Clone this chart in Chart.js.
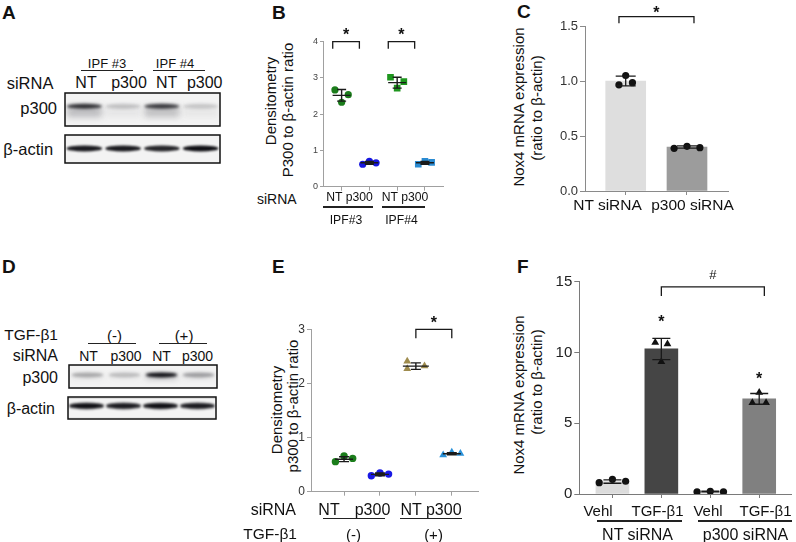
<!DOCTYPE html>
<html>
<head>
<meta charset="utf-8">
<script src="https://cdn.jsdelivr.net/npm/chart.js@4.4.0/dist/chart.umd.min.js"></script>
<style>
  body { margin: 0; background: #fff; }
  #fig { position: relative; width: 796px; height: 542px; overflow: hidden;
         font-family: "Liberation Sans", Arial, sans-serif; color: #111; }
  .t { position: absolute; white-space: nowrap; line-height: 1; }
  .ln { position: absolute; height: 1.3px; background: #222; }
  canvas { position: absolute; }
</style>
</head>
<body>
<div id="fig"></div>
<script>
// ---- data ----
// A: western blot band intensity (0..1)
const aLanes = ['NT', 'p300', 'NT', 'p300'];
const aP300 = [0.85, 0.2, 0.8, 0.18];
const aActin = [0.95, 0.95, 0.9, 1.0];

// B: densitometry, IPF#3 / IPF#4
const bLabels = ['NT', 'p300', 'NT', 'p300'];
const bPoints = [[2.67, 2.33, 2.54], [0.62, 0.70, 0.66], [3.02, 2.72, 2.90], [0.62, 0.70, 0.67]];
const bMean = [2.52, 0.66, 2.87, 0.66];
const bSd = [0.16, 0.04, 0.15, 0.04];
const bTicks = [0, 1, 2, 3, 4];

// C: Nox4 mRNA
const cLabels = ['NT siRNA', 'p300 siRNA'];
const cMean = [1.0, 0.40];
const cPoints = [[0.965, 1.05, 0.985], [0.388, 0.406, 0.394]];
const cSd = [0.045, 0.01];
const cTicks = [0, 0.5, 1.0, 1.5];

// D: western blot with TGF-b1
const dLanes = ['NT', 'p300', 'NT', 'p300'];
const dP300 = [0.3, 0.22, 1.0, 0.35];
const dActin = [1.0, 0.95, 1.0, 0.95];

// E: densitometry with TGF-b1
const eLabels = ['NT', 'p300', 'NT', 'p300'];
const ePoints = [[0.555, 0.66, 0.615], [0.295, 0.345, 0.325], [2.41, 2.27, 2.32], [0.68, 0.73, 0.705]];
const eMean = [0.60, 0.32, 2.32, 0.70];
const eSd = [0.045, 0.025, 0.06, 0.02];
const eTicks = [0, 1, 2, 3];

// F: Nox4 mRNA with TGF-b1
const fLabels = ['Vehl', 'TGF-β1', 'Vehl', 'TGF-β1'];
const fMean = [0.88, 10.25, 0.18, 6.72];
const fSd = [0.12, 0.75, 0.02, 0.38];
const fPoints = [[0.8, 1.04, 0.9], [10.7, 9.35, 10.6], [0.16, 0.19, 0.16], [6.45, 7.18, 6.45]];
const fTicks = [0, 5, 10, 15];

// ---- helpers ----
const FONT = '"Liberation Sans", Arial, sans-serif';
Chart.defaults.font.family = FONT;
const fig = document.getElementById('fig');

function text(str, x, y, size, align, extra) {
  const d = document.createElement('div');
  d.className = 't';
  d.textContent = str;
  d.style.fontSize = size + 'px';
  d.style.left = x + 'px';
  d.style.top = y + 'px';
  const tx = align === 'l' ? '0' : align === 'r' ? '-100%' : '-50%';
  d.style.transform = 'translate(' + tx + ',-50%)' + (extra && extra.rot ? ' rotate(-90deg)' : '');
  if (extra && extra.bold) d.style.fontWeight = 'bold';
  fig.appendChild(d);
}
function vtext(str, x, y, size) { text(str, x, y, size, 'c', { rot: true }); }
function hline(x1, x2, y) {
  const d = document.createElement('div');
  d.className = 'ln';
  d.style.left = x1 + 'px'; d.style.width = (x2 - x1) + 'px'; d.style.top = y + 'px';
  fig.appendChild(d);
}
function makeCanvas(left, top, w, h) {
  const c = document.createElement('canvas');
  c.width = w; c.height = h;
  c.style.left = left + 'px'; c.style.top = top + 'px';
  c.style.width = w + 'px'; c.style.height = h + 'px';
  fig.appendChild(c);
  return c.getContext('2d');
}

// blot bands drawn on the chart's own x/y scales
function bandPlugin(o) {
  return {
    id: 'bands',
    beforeDatasetsDraw(chart) {
      const { ctx, chartArea: a, scales: { x, y } } = chart;
      const vals = chart.data.datasets[0].data;
      const lane = Math.abs(x.getPixelForValue(1) - x.getPixelForValue(0));
      ctx.save();
      ctx.fillStyle = '#f3f3f3';
      ctx.fillRect(a.left, a.top, a.width, a.height);
      ctx.beginPath(); ctx.rect(a.left, a.top, a.width, a.height); ctx.clip();
      vals.forEach(p => {
        const cx = x.getPixelForValue(p.x), cy = y.getPixelForValue(p.y), v = p.v;
        const w = lane * o.wf;
        if (o.smear) {
          ctx.filter = 'blur(3px)';
          ctx.fillStyle = 'rgba(60,60,70,' + (v * 0.35) + ')';
          ctx.fillRect(cx - w / 2, cy, w, o.smear);
        }
        ctx.filter = 'blur(' + o.blur + 'px)';
        ctx.fillStyle = 'rgba(15,15,20,' + v + ')';
        ctx.beginPath();
        ctx.ellipse(cx, cy, w / 2, o.h / 2, 0, 0, Math.PI * 2);
        ctx.fill();
      });
      ctx.restore();
      ctx.save();
      ctx.strokeStyle = '#111'; ctx.lineWidth = 1.5;
      ctx.strokeRect(a.left, a.top, a.width, a.height);
      ctx.restore();
    }
  };
}
function blot(left, top, w, h, values, o) {
  new Chart(makeCanvas(left, top, w, h), {
    type: 'scatter',
    data: { datasets: [{ data: values.map((v, i) => ({ x: i, y: o.row, v: v })), pointRadius: 0 }] },
    options: {
      responsive: false, animation: false, devicePixelRatio: 1,
      layout: { padding: 1 },
      plugins: { legend: { display: false }, tooltip: { enabled: false } },
      scales: {
        x: { type: 'linear', display: false, min: -0.5, max: 3.5 },
        y: { display: false, min: 0, max: 1 }
      }
    },
    plugins: [bandPlugin(o)]
  });
}

// mean/SD error bars
function errPlugin(mean, sd, o) {
  return {
    id: 'err',
    afterDatasetsDraw(chart) {
      const { ctx, scales: { x, y } } = chart;
      ctx.save();
      ctx.strokeStyle = '#1a1a1a'; ctx.lineWidth = o.lw;
      mean.forEach((m, i) => {
        const cx = x.getPixelForValue(i);
        const ym = y.getPixelForValue(m);
        const yt = y.getPixelForValue(m + sd[i]), yb = y.getPixelForValue(m - sd[i]);
        const mw = Array.isArray(o.meanW) ? o.meanW[i] : o.meanW;
        ctx.beginPath();
        if (mw) { ctx.moveTo(cx - mw, ym); ctx.lineTo(cx + mw, ym); }
        ctx.moveTo(cx, yt); ctx.lineTo(cx, yb);
        ctx.moveTo(cx - o.capW, yt); ctx.lineTo(cx + o.capW, yt);
        ctx.moveTo(cx - o.capW, yb); ctx.lineTo(cx + o.capW, yb);
        ctx.stroke();
      });
      ctx.restore();
    }
  };
}

// significance brackets and marks
function sigPlugin(brackets, marks) {
  return {
    id: 'sig',
    afterDraw(chart) {
      const { ctx, scales: { x, y } } = chart;
      ctx.save();
      ctx.strokeStyle = '#1a1a1a'; ctx.lineWidth = 1.3;
      ctx.fillStyle = '#111'; ctx.textAlign = 'center'; ctx.textBaseline = 'middle';
      brackets.forEach(b => {
        const x1 = x.getPixelForValue(b.from), x2 = x.getPixelForValue(b.to), yy = y.getPixelForValue(b.at);
        ctx.beginPath();
        ctx.moveTo(x1, yy + b.drop); ctx.lineTo(x1, yy); ctx.lineTo(x2, yy); ctx.lineTo(x2, yy + b.drop);
        ctx.stroke();
        const star = b.text === '*';
        ctx.font = (star ? 'bold ' : '') + b.size + 'px ' + FONT;
        ctx.fillText(b.text, (x1 + x2) / 2, yy - b.gap + (star ? b.size * 0.22 : 0));
      });
      (marks || []).forEach(m => {
        ctx.font = 'bold ' + m.size + 'px ' + FONT;
        ctx.fillText(m.text, x.getPixelForValue(m.x), y.getPixelForValue(m.at) + m.size * 0.22);
      });
      ctx.restore();
    }
  };
}

function baseOptions(p) {
  return {
    responsive: false, animation: false, devicePixelRatio: 1,
    layout: { padding: { top: p.padT, right: p.padR, left: 0, bottom: 0 } },
    plugins: { legend: { display: false }, tooltip: { enabled: false } },
    scales: {
      x: {
        type: 'linear', min: p.xMin, max: p.xMax, offset: false,
        afterBuildTicks: s => { s.ticks = p.cats.map((_, i) => ({ value: i })); },
        afterFit: s => { s.height = p.xH; },
        ticks: { display: false },
        grid: { drawOnChartArea: false, drawTicks: true, tickLength: 4, color: p.axis, offset: false },
        border: { color: p.axis, width: 1 }
      },
      y: {
        min: p.yTicks[0], max: p.yTicks[p.yTicks.length - 1],
        afterBuildTicks: s => { s.ticks = p.yTicks.map(v => ({ value: v })); },
        afterFit: s => { s.width = p.yW; },
        ticks: { font: { family: FONT, size: p.fs }, color: p.tc, padding: 2,
                 callback: p.fmt || (v => String(v)) },
        grid: { drawOnChartArea: false, tickLength: p.tl || 4, color: p.axis },
        border: { color: p.axis, width: 1 }
      }
    }
  };
}

function scatterSets(points, spread, jit, colors, styles, radii) {
  return points.map((vals, i) => ({
    type: 'scatter',
    data: vals.map((v, k) => ({ x: i + spread[i][k] * (Array.isArray(jit) ? jit[i] : jit), y: v })),
    backgroundColor: colors[i], borderWidth: 0,
    pointStyle: styles[i], pointRadius: radii[i], pointHoverRadius: radii[i],
    order: 1
  }));
}
const even3 = [-1, 0, 1];

// ---- panel letters ----
text('A', 2, 12, 19, 'l', { bold: true });
text('B', 272, 12, 19, 'l', { bold: true });
text('C', 517, 11, 19, 'l', { bold: true });
text('D', 2, 266, 19, 'l', { bold: true });
text('E', 272, 266, 19, 'l', { bold: true });
text('F', 517, 266, 19, 'l', { bold: true });

// ---- panel A ----
text('IPF #3', 107, 63, 13, 'c');
hline(80.7, 133.3, 69.5);
text('IPF #4', 175, 63, 13, 'c');
hline(152.7, 205, 69.5);
text('siRNA', 6.7, 83, 16.5, 'l');
[86, 129, 166.7, 204.7].forEach((cx, i) => text(aLanes[i], cx, 83, 16, 'c'));
text('p300', 57, 107.5, 16.5, 'r');
text('β-actin', 3.3, 149, 16.5, 'l');
blot(64, 92, 157, 35, aP300, { row: 0.6, wf: 0.9, h: 5, blur: 1.8, smear: 11 });
blot(64, 134, 157, 30, aActin, { row: 0.52, wf: 0.92, h: 6, blur: 1.2 });

// ---- panel B ----
vtext('Densitometry', 270, 101, 15);
vtext('P300 to β-actin ratio', 287, 109.5, 15);
new Chart(makeCanvas(300, 22, 150, 178), {
  type: 'scatter',
  data: { datasets: scatterSets(bPoints, [even3, even3, even3, even3], 0.24,
    ['#1b7d1b', '#1616e0', '#1e961e', '#2a8bd2'], ['circle', 'circle', 'rect', 'rect'], [3.6, 3.6, 4.7, 4.7]) },
  options: baseOptions({ cats: bLabels, xMin: -0.67, xMax: 3.65, yTicks: bTicks, yW: 23, xH: 13.3,
    padT: 19.7, padR: 7, axis: '#a0a0a0', fs: 9, tc: '#444', tl: 3 }),
  plugins: [errPlugin(bMean, bSd, { lw: 1.4, meanW: 9, capW: 4.5 }),
    sigPlugin([{ from: -0.32, to: 0.64, at: 4, drop: 7, text: '*', size: 16, gap: 9.5 },
               { from: 1.68, to: 2.63, at: 4, drop: 7, text: '*', size: 16, gap: 9.5 }])]
});
text('siRNA', 257, 198.5, 14, 'l');
text(bLabels[0] + ' ' + bLabels[1], 349.5, 197, 12.2, 'c');
text(bLabels[2] + ' ' + bLabels[3], 405, 197, 12.2, 'c');
hline(322.7, 372.7, 206.3);
hline(381.7, 425, 206.3);
text('IPF#3', 346, 220, 12.2, 'c');
text('IPF#4', 401.5, 220, 12.2, 'c');

// ---- panel C ----
vtext('Nox4 mRNA expression', 518, 106.5, 15);
vtext('(ratio to β-actin)', 536, 108, 15);
new Chart(makeCanvas(550, 0, 185, 205), {
  type: 'bar',
  data: { datasets: [
    { type: 'bar', data: cMean.map((v, i) => ({ x: i, y: v })), backgroundColor: ['#dedede', '#9c9c9c'],
      barThickness: 40, borderWidth: 0, order: 2 }
  ].concat(scatterSets(cPoints, [even3, even3], [0.11, 0.21], ['#111', '#111'], ['circle', 'circle'], [3.6, 3.6])) },
  options: baseOptions({ cats: cLabels, xMin: -0.664, xMax: 1.669, yTicks: cTicks, yW: 35, xH: 14,
    padT: 26, padR: 7, axis: '#8a8a8a', fs: 13, tc: '#333', fmt: v => v.toFixed(1), tl: 5 }),
  plugins: [errPlugin(cMean, cSd, { lw: 1.3, meanW: 0, capW: 10 }),
    sigPlugin([{ from: -0.11, to: 1.114, at: 1.585, drop: 6.7, text: '*', size: 16, gap: 7 }])]
});
text(cLabels[0], 607.5, 204.5, 15.5, 'c');
text(cLabels[1], 692.5, 204.5, 15.5, 'c');

// ---- panel D ----
text('TGF-β1', 58, 335, 15.5, 'r');
text('(-)', 114.5, 335, 15, 'c');
hline(88, 136, 342.5);
text('(+)', 184, 335, 15, 'c');
hline(159, 207, 342.5);
text('siRNA', 58, 356, 16, 'r');
[88.5, 126, 161.5, 197.5].forEach((cx, i) => text(dLanes[i], cx, 356, 14, 'c'));
text('p300', 58, 378, 16, 'r');
text('β-actin', 6.7, 409, 16, 'l');
blot(68, 364, 150, 25, dP300, { row: 0.57, wf: 0.85, h: 5, blur: 1.8, smear: 4 });
blot(67, 396, 150, 23.5, dActin, { row: 0.6, wf: 0.95, h: 6, blur: 1.2 });

// ---- panel E ----
vtext('Densitometry', 276, 410, 15);
vtext('p300 to β-actin ratio', 292, 406, 15);
new Chart(makeCanvas(290, 310, 195, 195), {
  type: 'scatter',
  data: { datasets: scatterSets(ePoints, [even3, even3, [-1, -1, 1], even3], 0.24,
    ['#1b7d1b', '#1818e4', '#9f8c4e', '#2a92da'], ['circle', 'circle', 'triangle', 'triangle'], [3.7, 3.7, 4.5, 4.5]) },
  options: baseOptions({ cats: eLabels, xMin: -0.92, xMax: 3.73, yTicks: eTicks, yW: 21, xH: 13.3,
    padT: 19.3, padR: 7, axis: '#a0a0a0', fs: 12, tc: '#333', tl: 4 }),
  plugins: [errPlugin(eMean, eSd, { lw: 1.4, meanW: [9, 9, 13, 9], capW: 5 }),
    sigPlugin([{ from: 2, to: 3, at: 3, drop: 9, text: '*', size: 16, gap: 9.3 }])]
});
text('siRNA', 296, 510, 16, 'r');
text(eLabels[0], 329, 510, 16, 'c');
text(eLabels[1], 372.5, 510, 16, 'c');
text(eLabels[2] + ' ' + eLabels[3], 431, 510, 16, 'c');
hline(323, 385, 517.8);
hline(400, 462, 517.8);
text('TGF-β1', 297, 534, 15.5, 'r');
text('(-)', 353.5, 534, 15, 'c');
text('(+)', 433.5, 534, 15, 'c');

// ---- panel F ----
vtext('Nox4 mRNA expression', 518, 395, 15);
vtext('(ratio to β-actin)', 536, 382, 15);
new Chart(makeCanvas(545, 265, 251, 240), {
  type: 'bar',
  data: { datasets: [
    { type: 'bar', data: fMean.map((v, i) => ({ x: i, y: v })),
      backgroundColor: ['#dcdcdc', '#454545', '#dcdcdc', '#808080'],
      barThickness: 33, borderWidth: 0, order: 2 }
  ].concat(scatterSets(fPoints, [even3, even3, even3, even3], [0.27, 0.125, 0.27, 0.14],
      ['#111', '#111', '#111', '#111'], ['circle', 'triangle', 'circle', 'triangle'], [3.6, 4.5, 3.6, 4.5])) },
  options: baseOptions({ cats: fLabels, xMin: -0.677, xMax: 3.66, yTicks: fTicks, yW: 34.3, xH: 11,
    padT: 16.7, padR: 3, axis: '#7a7a7a', fs: 15, tc: '#222', tl: 5 }),
  plugins: [errPlugin(fMean, fSd, { lw: 1.3, meanW: 0, capW: 9 }),
    sigPlugin([{ from: 1, to: 3.105, at: 14.64, drop: 9.3, text: '#', size: 13, gap: 11 }],
              [{ x: 1, at: 12.36, text: '*', size: 16 }, { x: 3, at: 8.33, text: '*', size: 16 }])]
});
text(fLabels[0], 598, 510, 15, 'c');
text(fLabels[1], 657.5, 510, 15, 'c');
text(fLabels[2], 708, 510, 15, 'c');
text(fLabels[3], 765.5, 510, 15, 'c');
hline(597, 682, 520.3);
hline(698, 792, 520.3);
text('NT siRNA', 637.5, 534.5, 16, 'c');
text('p300 siRNA', 745.5, 534.5, 16, 'c');
</script>
</body>
</html>
